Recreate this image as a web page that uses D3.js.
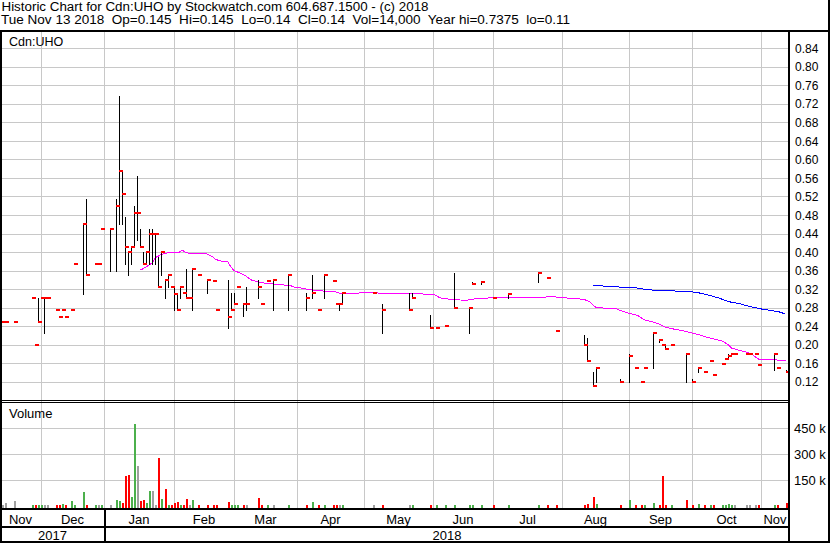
<!DOCTYPE html>
<html><head><meta charset="utf-8">
<script src="https://cdn.jsdelivr.net/npm/d3@7"></script>
<style>
body{margin:0;background:#fff}
svg{display:block}
text{font-family:"Liberation Sans",Arial,sans-serif;fill:#000}
</style>
</head><body>
<svg id="c" width="830" height="543"></svg>
<script>
// ---------- data ----------
const dates = ["2017-11-14","2017-11-15","2017-11-20","2017-11-28","2017-11-29","2017-11-30","2017-12-01","2017-12-04","2017-12-05","2017-12-08",
"2017-12-11","2017-12-12","2017-12-13","2017-12-15","2017-12-18","2017-12-21","2017-12-22","2017-12-27","2017-12-28","2017-12-29",
"2018-01-03","2018-01-05","2018-01-08","2018-01-09","2018-01-10","2018-01-11","2018-01-12","2018-01-15","2018-01-16","2018-01-17",
"2018-01-18","2018-01-19","2018-01-22","2018-01-23","2018-01-24","2018-01-25","2018-01-26","2018-01-29","2018-01-30","2018-01-31",
"2018-02-01","2018-02-02","2018-02-05","2018-02-06","2018-02-07","2018-02-08","2018-02-09","2018-02-13","2018-02-16","2018-02-20",
"2018-02-21","2018-02-27","2018-02-28","2018-03-01","2018-03-02","2018-03-06","2018-03-07","2018-03-13","2018-03-14","2018-03-16",
"2018-03-20","2018-03-27","2018-04-04","2018-04-06","2018-04-10","2018-04-12","2018-04-17","2018-04-18","2018-04-19","2018-04-20",
"2018-05-04","2018-05-09","2018-05-22","2018-05-23","2018-05-31","2018-06-04","2018-06-07","2018-06-12","2018-06-19","2018-06-20",
"2018-06-25","2018-06-29","2018-07-06","2018-07-20","2018-07-25","2018-07-30","2018-08-10","2018-08-13","2018-08-15","2018-08-16",
"2018-08-28","2018-08-31","2018-09-04","2018-09-06","2018-09-07","2018-09-12","2018-09-14","2018-09-17","2018-09-18","2018-09-20",
"2018-09-27","2018-10-01","2018-10-03","2018-10-05","2018-10-09","2018-10-10","2018-10-15","2018-10-16","2018-10-17","2018-10-18",
"2018-10-19","2018-10-25","2018-10-26","2018-10-30","2018-10-31","2018-11-07","2018-11-08","2018-11-13"];
const highs = [0.25,0.25,0.25,0.30,0.20,0.30,0.30,0.30,0.30,0.275,
0.26,0.275,0.26,0.275,0.375,0.46,0.515,0.375,0.375,0.45,
0.45,0.515,0.7375,0.575,0.475,0.40,0.41,0.50,0.565,0.45,
0.40,0.40,0.45,0.45,0.44,0.39,0.40,0.34,0.35,0.325,
0.325,0.31,0.325,0.3125,0.3625,0.30,0.3625,0.35,0.34,0.3375,
0.275,0.34,0.3125,0.3125,0.325,0.2875,0.325,0.34,0.2875,0.3375,
0.34,0.35,0.3125,0.35,0.275,0.35,0.3375,0.2875,0.2875,0.3125,
0.3125,0.2875,0.3125,0.3125,0.265,0.235,0.24,0.355,0.28,0.335,
0.335,0.30,0.3125,0.355,0.345,0.23,0.22,0.215,0.14,0.15,
0.125,0.18,0.15,0.12,0.15,0.2275,0.2125,0.20,0.20,0.20,
0.18,0.125,0.15,0.14,0.165,0.135,0.1575,0.17,0.18,0.18,
0.18,0.18,0.18,0.18,0.155,0.18,0.15,0.145];
const lows = [0.25,0.25,0.25,0.30,0.20,0.25,0.30,0.225,0.30,0.275,
0.26,0.275,0.26,0.275,0.375,0.31,0.35,0.375,0.375,0.45,
0.36,0.36,0.46,0.46,0.375,0.35,0.375,0.41,0.425,0.41,
0.375,0.375,0.375,0.375,0.375,0.325,0.35,0.30,0.325,0.325,
0.275,0.275,0.30,0.3125,0.30,0.30,0.275,0.35,0.3125,0.3375,
0.275,0.235,0.275,0.2875,0.325,0.2625,0.275,0.30,0.2875,0.3375,
0.275,0.275,0.275,0.30,0.275,0.30,0.3375,0.2875,0.275,0.2875,
0.3125,0.225,0.275,0.30,0.235,0.235,0.24,0.28,0.225,0.33,
0.33,0.30,0.30,0.335,0.345,0.23,0.20,0.165,0.11,0.12,
0.12,0.12,0.15,0.12,0.15,0.15,0.205,0.20,0.19,0.20,
0.12,0.12,0.14,0.14,0.165,0.135,0.1575,0.17,0.17,0.18,
0.18,0.18,0.18,0.18,0.155,0.145,0.15,0.14];
const closes = [0.25,0.25,0.25,0.30,0.20,0.25,0.30,0.30,0.30,0.275,
0.26,0.275,0.26,0.275,0.375,0.46,0.35,0.375,0.375,0.45,
0.45,0.50,0.575,0.525,0.41,0.40,0.41,0.485,0.485,0.41,
0.375,0.40,0.44,0.44,0.44,0.325,0.40,0.34,0.35,0.325,
0.31,0.275,0.325,0.3125,0.30,0.30,0.3625,0.35,0.34,0.3375,
0.275,0.26,0.275,0.2875,0.325,0.2875,0.2875,0.325,0.2875,0.3375,
0.34,0.35,0.30,0.3125,0.275,0.35,0.3375,0.2875,0.2875,0.3125,
0.3125,0.275,0.275,0.30,0.235,0.235,0.24,0.28,0.28,0.33,
0.335,0.30,0.31,0.355,0.345,0.23,0.20,0.165,0.11,0.15,
0.12,0.175,0.15,0.12,0.15,0.225,0.21,0.20,0.19,0.20,
0.18,0.12,0.15,0.14,0.165,0.135,0.1575,0.17,0.175,0.18,
0.18,0.18,0.18,0.18,0.155,0.18,0.15,0.14];
// volume in thousands of shares
const volumes = [2,16,28,2,2,3,3,2,3,5,
3,10,2,28,2,80,5,3,2,3,
2,34,28,18,175,179,53,475,233,28,
34,18,86,86,3,278,40,97,5,2,
18,22,5,2,40,2,34,5,2,2,
2,22,5,3,2,3,5,45,2,2,
5,5,3,22,3,2,2,2,5,2,
2,3,3,2,3,2,2,3,2,3,
3,3,2,2,2,3,5,10,51,10,
5,34,2,5,5,16,2,173,3,2,
34,5,10,2,2,2,3,5,10,3,
2,2,2,2,2,5,6,14];
// volume bar colour: u = up (green), d = down (red), n = unchanged (grey)
const volDir = ["n","n","n","u","d","u","u","n","n","d",
"d","u","d","u","u","u","d","u","n","u",
"n","u","u","d","d","d","u","u","n","d",
"d","u","u","n","n","d","u","d","u","d",
"d","d","u","d","d","n","u","d","d","d",
"d","d","u","u","u","d","n","d","d","u",
"n","u","d","u","d","u","d","d","n","u",
"n","d","n","u","d","u","u","u","u","u",
"u","d","u","u","d","d","d","d","d","u",
"d","u","d","d","u","u","d","d","d","u",
"d","d","u","d","u","d","u","u","u","u",
"n","n","n","n","d","u","d","d"];
// moving averages
const maShortDates = ["2018-01-17","2018-01-19","2018-01-23","2018-01-24","2018-01-26","2018-01-30","2018-01-31","2018-02-05","2018-02-06","2018-02-07",
"2018-02-09","2018-02-13","2018-02-16","2018-02-20","2018-02-21","2018-02-23","2018-02-27","2018-02-28","2018-03-01","2018-03-05",
"2018-03-07","2018-03-09","2018-03-14","2018-03-16","2018-03-20","2018-03-22","2018-03-28","2018-03-29","2018-04-03","2018-04-05",
"2018-04-09","2018-04-12","2018-04-17","2018-04-18","2018-04-19","2018-04-27","2018-05-01","2018-05-07","2018-05-08","2018-05-28",
"2018-05-29","2018-06-01","2018-06-04","2018-06-05","2018-06-06","2018-06-11","2018-06-15","2018-06-19","2018-06-20","2018-06-22",
"2018-06-27","2018-06-28","2018-07-04","2018-07-24","2018-07-25","2018-07-26","2018-08-01","2018-08-08","2018-08-10","2018-08-14",
"2018-08-15","2018-08-16","2018-08-22","2018-08-27","2018-08-29","2018-08-31","2018-09-05","2018-09-07","2018-09-12","2018-09-14",
"2018-09-18","2018-09-21","2018-09-26","2018-10-01","2018-10-04","2018-10-09","2018-10-15","2018-10-17","2018-10-18","2018-10-22",
"2018-10-23","2018-10-25","2018-10-29","2018-10-31","2018-11-06","2018-11-08","2018-11-13"];
const maShortValues = [0.361,0.368,0.377,0.388,0.395,0.398,0.399,0.400,0.404,0.399,
0.396,0.396,0.396,0.390,0.384,0.380,0.379,0.368,0.360,0.355,
0.348,0.339,0.334,0.332,0.331,0.330,0.327,0.3245,0.3215,0.319,
0.317,0.3157,0.3157,0.3135,0.311,0.311,0.3135,0.3135,0.311,0.311,
0.309,0.309,0.306,0.3025,0.300,0.298,0.296,0.2965,0.298,0.300,
0.300,0.302,0.302,0.302,0.304,0.304,0.3015,0.299,0.298,0.293,
0.286,0.281,0.278,0.277,0.272,0.268,0.263,0.254,0.249,0.245,
0.238,0.2335,0.230,0.225,0.220,0.214,0.2075,0.200,0.1927,0.189,
0.187,0.184,0.178,0.169,0.169,0.167,0.165];
const maLongDates = ["2018-08-15","2018-08-22","2018-09-04","2018-09-07","2018-09-13","2018-09-28","2018-10-04","2018-10-09","2018-10-12","2018-10-17",
"2018-10-23","2018-10-26","2018-11-01","2018-11-06","2018-11-09","2018-11-13"];
const maLongValues = [0.329,0.3255,0.323,0.320,0.317,0.315,0.311,0.306,0.3005,0.293,
0.288,0.2825,0.277,0.274,0.2705,0.266];
const priceTicks = [0.12,0.16,0.20,0.24,0.28,0.32,0.36,0.40,0.44,0.48,0.52,0.56,0.60,0.64,0.68,0.72,0.76,0.80,0.84];
const volumeTicks = [150,300,450];
const monthStarts = ["2017-12-01","2018-01-01","2018-02-01","2018-03-01","2018-04-01","2018-05-01","2018-06-01","2018-07-01","2018-08-01","2018-09-01","2018-10-01","2018-11-01"];
const monthLabels = ["Nov","Dec","Jan","Feb","Mar","Apr","May","Jun","Jul","Aug","Sep","Oct","Nov"];
const yearLabels = ["2017","2018"];
const headerLine1 = "Historic Chart for Cdn:UHO by Stockwatch.com 604.687.1500 - (c) 2018";
const headerLine2 = "Tue Nov 13 2018  Op=0.145  Hi=0.145  Lo=0.14  Cl=0.14  Vol=14,000  Year hi=0.7375  lo=0.11";

// ---------- chart ----------
const svg = d3.select("#c");
const parse = d3.timeParse("%Y-%m-%d");
const origin = new Date(2017,10,13); // Monday
function slot(d){ // weekday slot index; weekend days fall back to the Friday
  const w = d3.timeMonday.count(origin, d);
  const dow = d.getDay();
  return w*5 + ((dow===0||dow===6) ? 4 : dow-1);
}
const L = 2, R = 788;
const x = d3.scaleLinear().domain([1,261]).range([1.7,785.6]);
const yP = d3.scaleLinear().domain([0.12,0.84]).range([381.7,48.3]);
const yV = d3.scaleLinear().domain([0,450]).range([505.8,428.3]);
const px = d => Math.round(x(slot(parse(d))));

svg.append("rect").attr("width",830).attr("height",543).attr("fill","#fff");
const g = svg.append("g").attr("shape-rendering","crispEdges");
const grid = "#c8c8c8";

// horizontal grid (price)
g.selectAll(".hp").data(priceTicks).join("line")
  .attr("x1",L).attr("x2",R).attr("y1",d=>Math.round(yP(d))+0.5).attr("y2",d=>Math.round(yP(d))+0.5)
  .attr("stroke",grid);
// horizontal grid (volume)
g.selectAll(".hv").data(volumeTicks).join("line")
  .attr("x1",L).attr("x2",R).attr("y1",d=>Math.round(yV(d))+0.5).attr("y2",d=>Math.round(yV(d))+0.5)
  .attr("stroke",grid);
// vertical month grid
const gx = monthStarts.map(m=>Math.round(x(slot(parse(m)))));
g.selectAll(".vg").data(gx).join("line")
  .attr("x1",d=>d+0.5).attr("x2",d=>d+0.5).attr("y1",32).attr("y2",508).attr("stroke",grid);

// moving averages
const lineGen = d3.line().x(d=>x(slot(parse(d[0])))).y(d=>yP(d[1]));
g.append("path").datum(d3.zip(maShortDates,maShortValues)).attr("d",lineGen)
  .attr("fill","none").attr("stroke","#ff00ff").attr("stroke-width",1);
g.append("path").datum(d3.zip(maLongDates,maLongValues)).attr("d",lineGen)
  .attr("fill","none").attr("stroke","#0000ff").attr("stroke-width",1);

// price bars
const bars = dates.map((d,i)=>({d, h:highs[i], l:lows[i], c:closes[i], v:volumes[i], dir:volDir[i]}));
g.selectAll(".hl").data(bars.filter(b=>b.h>b.l)).join("line")
  .attr("x1",b=>px(b.d)+0.5).attr("x2",b=>px(b.d)+0.5)
  .attr("y1",b=>Math.round(yP(b.h))).attr("y2",b=>Math.round(yP(b.l))+1)
  .attr("stroke","#000").attr("stroke-width",1);
g.selectAll(".cl").data(bars).join("rect")
  .attr("x",b=>px(b.d)).attr("y",b=>Math.round(yP(b.c))-1)
  .attr("width",4).attr("height",2).attr("fill","#ff0000");

// volume bars
const vcol = {u:"#4cb04c", d:"#ff0000", n:"#a0a0a0"};
g.selectAll(".vb").data(bars).join("rect")
  .attr("x",b=>px(b.d)).attr("width",2)
  .attr("y",b=>Math.min(Math.round(yV(b.v)),506)).attr("height",b=>508-Math.min(Math.round(yV(b.v)),506))
  .attr("fill",b=>vcol[b.dir]);

// frame
const blk = (x0,y0,w,h)=>g.append("rect").attr("x",x0).attr("y",y0).attr("width",w).attr("height",h).attr("fill","#000");
blk(0,30,830,2);       // header rule
blk(L,400,R-L,1);      // double rule between panels
blk(L,402,R-L,1);
blk(0,508,790,2);      // bottom of volume panel
blk(0,526,790,2);      // month/year separator
blk(0,541,830,2);      // bottom border
blk(0,30,2,513);       // left border
blk(788,30,2,513);     // axis rule
blk(828,0,2,543);      // right border
const janX = gx[1];
blk(janX,510,2,31);    // 2017 / 2018 separator

// texts
svg.append("text").attr("x",1.5).attr("y",10.5).attr("font-size",12)
  .attr("textLength",427).attr("lengthAdjust","spacingAndGlyphs").text(headerLine1);
svg.append("text").attr("x",1).attr("y",24).attr("font-size",12).style("white-space","pre")
  .attr("textLength",569).attr("lengthAdjust","spacingAndGlyphs").text(headerLine2);
svg.append("text").attr("x",9).attr("y",45.5).attr("font-size",12.5).text("Cdn:UHO");
svg.append("text").attr("x",9).attr("y",417.5).attr("font-size",13).text("Volume");

svg.selectAll(".pl").data(priceTicks).join("text")
  .attr("x",795).attr("y",d=>yP(d)+4.6).attr("font-size",12).text(d=>d.toFixed(2));
svg.selectAll(".vl").data(volumeTicks).join("text")
  .attr("x",794).attr("y",d=>yV(d)+5).attr("font-size",13).text(d=>d+" k");

const bounds = [0, ...gx, 789];
svg.selectAll(".ml").data(monthLabels).join("text")
  .attr("x",(d,i)=>(bounds[i]+bounds[i+1])/2).attr("y",523.5).attr("text-anchor","middle")
  .attr("font-size",13).text(d=>d);
const yb = [0, janX+1, 789];
svg.selectAll(".yl").data(yearLabels).join("text")
  .attr("x",(d,i)=>(yb[i]+yb[i+1])/2).attr("y",539.5).attr("text-anchor","middle")
  .attr("font-size",13).text(d=>d);
</script>
</body></html>
